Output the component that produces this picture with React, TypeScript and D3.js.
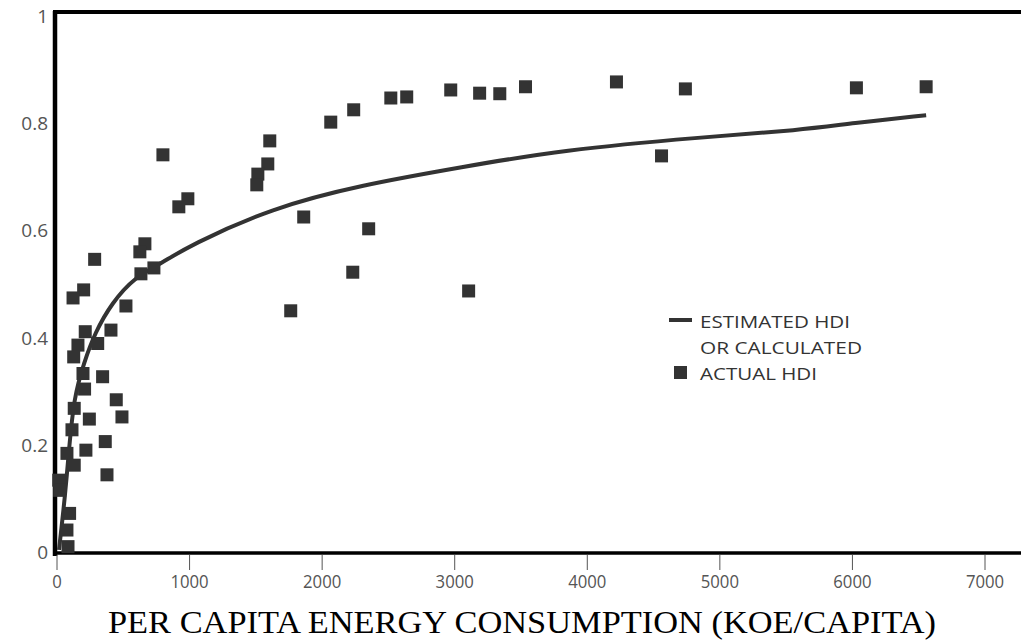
import * as d3 from "d3";
import { useEffect, useRef } from "react";

// actual HDI observations (energy in koe/capita, HDI)
const actualEnergy = [
  3534, 4220, 4740, 6030, 6556, 4560, 3340, 3188, 2970, 2638, 2518, 2238, 2065,
  3105, 2351, 2231, 1861, 1763, 1605, 1590, 1515, 1507, 799, 987, 919, 663, 625,
  633, 731, 520, 284, 201, 121, 213, 407, 307, 158, 126, 196, 344, 208, 447, 130,
  490, 244, 113, 364, 218, 75, 130, 377, 13, 20, 95, 75, 83,
];
const actualHdi = [
  0.868, 0.877, 0.864, 0.866, 0.868, 0.739, 0.855, 0.856, 0.862, 0.849, 0.847,
  0.825, 0.802, 0.487, 0.603, 0.522, 0.625, 0.45, 0.767, 0.724, 0.705, 0.685,
  0.741, 0.659, 0.644, 0.575, 0.56, 0.519, 0.53, 0.459, 0.546, 0.489, 0.474,
  0.411, 0.414, 0.389, 0.386, 0.364, 0.333, 0.327, 0.304, 0.284, 0.268, 0.252,
  0.248, 0.228, 0.206, 0.19, 0.184, 0.162, 0.144, 0.134, 0.115, 0.072, 0.041,
  0.01,
];

// estimated HDI curve
const curveEnergy = [15, 60, 90, 128, 203, 286, 414, 588, 791, 1000, 1620, 2298, 3052, 3806, 4861, 5614, 5991, 6556];
const curveHdi = [0.004, 0.102, 0.19, 0.289, 0.353, 0.409, 0.465, 0.513, 0.539, 0.572, 0.642, 0.685, 0.718, 0.75, 0.774, 0.787, 0.8, 0.815];

const xTicks = [0, 1000, 2000, 3000, 4000, 5000, 6000, 7000];
const yTicks = [0, 0.2, 0.4, 0.6, 0.8, 1];

const INK = "#333";
const LABEL = "#555";
const SANS = "'Open Sans', 'DejaVu Sans', sans-serif";

export default function App() {
  const ref = useRef<SVGSVGElement>(null);

  useEffect(() => {
    if (!ref.current) return;
    const svg = d3.select(ref.current);
    svg.selectAll("*").remove();

    const width = 1021;
    const height = 641;
    svg.attr("width", width).attr("height", height);
    svg.append("rect").attr("width", width).attr("height", height).attr("fill", "#fff");

    const x = d3.scaleLinear().domain([0, 7000]).range([57, 985]);
    const y = d3.scaleLinear().domain([0, 1]).range([552, 16]);

    // frame: left axis, top rule, baseline
    svg.append("line").attr("x1", 55).attr("x2", 55).attr("y1", 11).attr("y2", 556)
      .attr("stroke", "#000").attr("stroke-width", 4.5);
    svg.append("line").attr("x1", 53).attr("x2", width).attr("y1", 12).attr("y2", 12)
      .attr("stroke", "#000").attr("stroke-width", 4);
    svg.append("line").attr("x1", 53).attr("x2", width).attr("y1", y(0) + 1).attr("y2", y(0) + 1)
      .attr("stroke", "#000").attr("stroke-width", 3.5);

    // x ticks
    const xt = svg.append("g");
    xt.selectAll("line").data(xTicks).join("line")
      .attr("x1", (d) => x(d)).attr("x2", (d) => x(d))
      .attr("y1", 555).attr("y2", 570)
      .attr("stroke", "#555").attr("stroke-width", 1);
    xt.selectAll("text").data(xTicks).join("text")
      .attr("x", (d) => x(d)).attr("y", 588)
      .attr("text-anchor", "middle")
      .attr("font-family", SANS).attr("font-size", 19)
      .attr("fill", LABEL)
      .attr("transform", (d) => `translate(${x(d)},0) scale(0.88,1) translate(${-x(d)},0)`)
      .text((d) => String(d));

    // y tick labels
    svg.append("g").selectAll("text").data(yTicks).join("text")
      .attr("x", 48).attr("y", (d) => y(d) + 7)
      .attr("text-anchor", "end")
      .attr("font-family", SANS).attr("font-size", 19)
      .attr("fill", LABEL)
      .text((d) => (d === 0 || d === 1 ? String(d) : d.toFixed(1)));

    // estimated curve
    const pts = curveEnergy.map((e, i) => [e, curveHdi[i]] as [number, number]);
    const line = d3.line<[number, number]>()
      .x((d) => x(d[0])).y((d) => y(d[1]))
      .curve(d3.curveBasis);
    svg.append("path").datum(pts).attr("d", line)
      .attr("fill", "none").attr("stroke", INK).attr("stroke-width", 4);

    // actual points
    const s = 13;
    svg.append("g").selectAll("rect").data(actualEnergy.map((e, i) => [e, actualHdi[i]]))
      .join("rect")
      .attr("x", (d) => x(d[0]) - s / 2).attr("y", (d) => y(d[1]) - s / 2)
      .attr("width", s).attr("height", s)
      .attr("fill", INK);

    // legend
    const lg = svg.append("g").attr("font-family", SANS).attr("font-size", 17).attr("fill", INK);
    lg.append("line").attr("x1", 669).attr("x2", 692).attr("y1", 320).attr("y2", 320)
      .attr("stroke", INK).attr("stroke-width", 4);
    lg.append("text").attr("x", 700).attr("y", 328).text("ESTIMATED HDI")
      .attr("textLength", 150).attr("lengthAdjust", "spacingAndGlyphs");
    lg.append("text").attr("x", 700).attr("y", 354).text("OR CALCULATED")
      .attr("textLength", 162).attr("lengthAdjust", "spacingAndGlyphs");
    lg.append("rect").attr("x", 674).attr("y", 366).attr("width", 13).attr("height", 13).attr("fill", INK);
    lg.append("text").attr("x", 700).attr("y", 380).text("ACTUAL HDI")
      .attr("textLength", 117).attr("lengthAdjust", "spacingAndGlyphs");

    // x axis title
    svg.append("text").attr("x", 108).attr("y", 633)
      .attr("font-family", "'Liberation Serif', 'DejaVu Serif', serif")
      .attr("font-size", 32).attr("fill", "#000")
      .attr("textLength", 828).attr("lengthAdjust", "spacingAndGlyphs")
      .text("PER CAPITA ENERGY CONSUMPTION (KOE/CAPITA)");
  }, []);

  return <svg ref={ref} style={{ position: "absolute", left: 0, top: 0 }} />;
}
